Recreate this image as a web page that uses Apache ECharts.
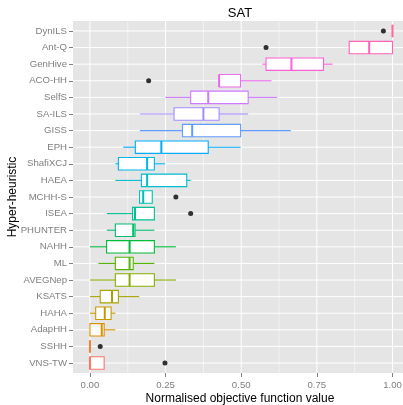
<!DOCTYPE html>
<html>
<head>
<meta charset="utf-8">
<script src="https://cdn.jsdelivr.net/npm/echarts@6/dist/echarts.min.js"></script>
<style>
  html, body { margin: 0; padding: 0; background: #ffffff; }
  #chart { width: 403px; height: 405px; }
</style>
</head>
<body>
<div id="chart"></div>
<script>
// Hyper-heuristics, listed bottom to top
const categories = ['VNS-TW', 'SSHH', 'AdapHH', 'HAHA', 'KSATS', 'AVEGNep', 'ML', 'NAHH',
  'PHUNTER', 'ISEA', 'MCHH-S', 'HAEA', 'ShafiXCJ', 'EPH', 'GISS', 'SA-ILS', 'SelfS',
  'ACO-HH', 'GenHive', 'Ant-Q', 'DynILS'];

// Five-number summaries of the normalised objective function value
const whiskerLow  = [0.000, 0.000, 0.000, 0.000, 0.000, 0.000, 0.028, 0.000, 0.056, 0.056, 0.164,
  0.084, 0.084, 0.110, 0.165, 0.165, 0.249, 0.427, 0.570, 0.857, 1.000];
const quartile1   = [0.000, 0.000, 0.000, 0.019, 0.034, 0.084, 0.084, 0.055, 0.084, 0.141, 0.164,
  0.170, 0.094, 0.150, 0.306, 0.278, 0.333, 0.427, 0.582, 0.857, 1.000];
const medianVal   = [0.000, 0.000, 0.039, 0.049, 0.073, 0.131, 0.131, 0.131, 0.143, 0.149, 0.176,
  0.189, 0.189, 0.236, 0.338, 0.375, 0.391, 0.427, 0.666, 0.923, 1.000];
const quartile3   = [0.047, 0.000, 0.047, 0.070, 0.094, 0.213, 0.143, 0.213, 0.149, 0.213, 0.206,
  0.320, 0.213, 0.391, 0.498, 0.427, 0.523, 0.498, 0.772, 1.000, 1.000];
const whiskerHigh = [0.047, 0.000, 0.084, 0.084, 0.163, 0.284, 0.213, 0.284, 0.213, 0.213, 0.206,
  0.333, 0.248, 0.498, 0.664, 0.523, 0.619, 0.600, 0.802, 1.000, 1.000];

// Outlying runs: [heuristic, value]
const outliers = [
  ['VNS-TW', 0.248], ['SSHH', 0.034], ['ISEA', 0.333], ['MCHH-S', 0.284],
  ['ACO-HH', 0.194], ['Ant-Q', 0.582], ['DynILS', 0.970]
];

const xTicks = [0, 0.25, 0.5, 0.75, 1];
const xMinorGrid = [0.125, 0.375, 0.625, 0.875];

// Polar CIE-Luv (HCL) to hex, used for the evenly spaced hue palette
function hclHex(h, c, l) {
  const rad = h * Math.PI / 180;
  const U = c * Math.cos(rad), V = c * Math.sin(rad);
  const Xn = 95.047, Yn = 100.0, Zn = 108.883;
  const den = Xn + 15 * Yn + 3 * Zn;
  const un = 4 * Xn / den, vn = 9 * Yn / den;
  const Y = l > 8 ? Yn * Math.pow((l + 16) / 116, 3) : Yn * l / 903.3;
  const u = U / (13 * l) + un, v = V / (13 * l) + vn;
  const X = 9 * Y * u / (4 * v);
  const Z = 3 * Y / v - 5 * Y - X / 3;
  const x = X / 100, y = Y / 100, z = Z / 100;
  const lin = [
    3.240479 * x - 1.537150 * y - 0.498535 * z,
    -0.969256 * x + 1.875992 * y + 0.041556 * z,
    0.055648 * x - 0.204043 * y + 1.057311 * z
  ];
  return '#' + lin.map(t => {
    let g = t <= 0.0031308 ? 12.92 * t : 1.055 * Math.pow(t, 1 / 2.4) - 0.055;
    g = Math.max(0, Math.min(1, g));
    return Math.round(g * 255).toString(16).padStart(2, '0');
  }).join('');
}

const n = categories.length;
const palette = categories.map((_, i) => hclHex(15 + i * 360 / n, 100, 65));

const boxRows = categories.map((_, i) =>
  [i, whiskerLow[i], quartile1[i], medianVal[i], quartile3[i], whiskerHigh[i]]);
const outlierRows = outliers.map(o => [o[1], categories.indexOf(o[0])]);
const vGridRows = xTicks.map(v => [v, 1]).concat(xMinorGrid.map(v => [v, 0]));
const hGridRows = categories.map((_, i) => [0, i]);
const yTickValues = categories.map((_, i) => i);

const chart = echarts.init(document.getElementById('chart'), null, { renderer: 'canvas' });

const labelFont = 'Liberation Sans, Arial, Helvetica, sans-serif';

chart.setOption({
  animation: false,
  backgroundColor: '#ffffff',
  graphic: [{
    type: 'text',
    x: 240, y: 13,
    style: {
      text: 'SAT', fill: '#000000', font: '13px ' + labelFont,
      textAlign: 'center', textVerticalAlign: 'middle'
    }
  }],
  grid: {
    left: 73, top: 21, width: 334, height: 352,
    containLabel: false, outerBoundsMode: 'none',
    show: true, backgroundColor: '#E5E5E5', borderWidth: 0
  },
  xAxis: {
    type: 'value',
    min: -0.056, max: 1.048,
    name: 'Normalised objective function value',
    nameLocation: 'middle', nameGap: 20, nameMoveOverlap: false,
    nameTextStyle: { color: '#000000', fontSize: 12, fontFamily: labelFont },
    axisLine: { show: false, onZero: false },
    axisTick: { show: true, length: 4, customValues: xTicks, lineStyle: { color: '#7F7F7F' } },
    axisLabel: {
      customValues: xTicks, margin: 7,
      color: '#7F7F7F', fontSize: 9.6, fontFamily: labelFont,
      formatter: v => v.toFixed(2)
    },
    splitLine: { show: false }
  },
  yAxis: {
    type: 'value',
    min: -0.6, max: n - 1 + 0.6,
    name: 'Hyper-heuristic',
    nameLocation: 'middle', nameGap: 54, nameRotate: 90, nameMoveOverlap: false,
    nameTextStyle: { color: '#000000', fontSize: 12, fontFamily: labelFont },
    axisLine: { show: false, onZero: false },
    axisTick: { show: true, length: 4, customValues: yTickValues, lineStyle: { color: '#7F7F7F' } },
    axisLabel: {
      customValues: yTickValues, margin: 6,
      color: '#7F7F7F', fontSize: 9.6, fontFamily: labelFont,
      formatter: v => categories[Math.round(v)]
    },
    splitLine: { show: false }
  },
  series: [
    {
      // vertical grid: major white, minor light grey
      type: 'custom', silent: true, z: 1,
      data: vGridRows,
      encode: { x: 0 },
      renderItem: (params, api) => {
        const cs = params.coordSys;
        const x = api.coord([api.value(0), 0])[0];
        return {
          type: 'line',
          shape: { x1: x, y1: cs.y, x2: x, y2: cs.y + cs.height },
          style: { stroke: api.value(1) ? '#FFFFFF' : '#F2F2F2', lineWidth: 1 }
        };
      }
    },
    {
      // horizontal grid at each heuristic
      type: 'custom', silent: true, z: 1,
      data: hGridRows,
      encode: { y: 1 },
      renderItem: (params, api) => {
        const cs = params.coordSys;
        const y = api.coord([0, api.value(1)])[1];
        return {
          type: 'line',
          shape: { x1: cs.x, y1: y, x2: cs.x + cs.width, y2: y },
          style: { stroke: '#FFFFFF', lineWidth: 1 }
        };
      }
    },
    {
      // box-and-whisker marks
      type: 'custom', z: 3,
      data: boxRows,
      encode: { x: [1, 2, 3, 4, 5], y: 0 },
      renderItem: (params, api) => {
        const idx = api.value(0);
        const col = palette[idx];
        const pLo = api.coord([api.value(1), idx]);
        const pQ1 = api.coord([api.value(2), idx]);
        const pMed = api.coord([api.value(3), idx]);
        const pQ3 = api.coord([api.value(4), idx]);
        const pHi = api.coord([api.value(5), idx]);
        const half = api.size([0, 1])[1] * 0.75 / 2;
        const yc = pMed[1];
        return {
          type: 'group',
          children: [
            { type: 'line', shape: { x1: pLo[0], y1: yc, x2: pQ1[0], y2: yc },
              style: { stroke: col, lineWidth: 1.1 } },
            { type: 'line', shape: { x1: pQ3[0], y1: yc, x2: pHi[0], y2: yc },
              style: { stroke: col, lineWidth: 1.1 } },
            { type: 'rect', shape: { x: pQ1[0], y: yc - half, width: pQ3[0] - pQ1[0], height: half * 2 },
              style: { fill: '#FFFFFF', stroke: col, lineWidth: 1.1 } },
            { type: 'line', shape: { x1: pMed[0], y1: yc - half, x2: pMed[0], y2: yc + half },
              style: { stroke: col, lineWidth: 2 } }
          ]
        };
      }
    },
    {
      type: 'scatter', z: 4,
      data: outlierRows,
      symbol: 'circle', symbolSize: 5,
      itemStyle: { color: '#000000' }
    }
  ]
});
</script>
</body>
</html>
